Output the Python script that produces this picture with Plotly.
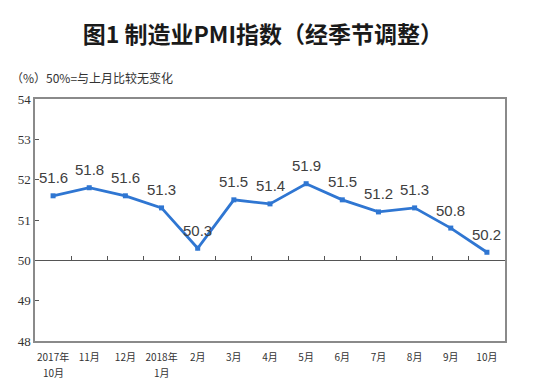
import plotly.graph_objects as go

tick_line1 = ["2017年", "11月", "12月", "2018年", "2月", "3月", "4月",
              "5月", "6月", "7月", "8月", "9月", "10月"]
tick_line2 = ["10月", "", "", "1月", "", "", "", "", "", "", "", "", ""]
pmi = [51.6, 51.8, 51.6, 51.3, 50.3, 51.5, 51.4, 51.9, 51.5, 51.2, 51.3, 50.8, 50.2]
y_ticks = [48, 49, 50, 51, 52, 53, 54]

idx = list(range(len(tick_line1)))
bounds = [i + 0.5 for i in idx[:-1]]
LINE_COLOR = "#2F76D2"

fig = go.Figure()
fig.add_trace(go.Scatter(
    x=idx, y=pmi, mode="lines+markers",
    line=dict(color=LINE_COLOR, width=2.8),
    marker=dict(symbol="square", size=5, color=LINE_COLOR),
    cliponaxis=False, showlegend=False, hoverinfo="skip"))
# invisible trace on the secondary (50-line) x-axis
fig.add_trace(go.Scatter(x=idx, y=pmi, xaxis="x2", mode="none",
                         showlegend=False, hoverinfo="skip"))

annotations = []
for i, v in zip(idx, pmi):
    annotations.append(dict(x=i, y=v, xref="x", yref="y", text=f"{v:.1f}",
                            showarrow=False, yshift=18, yanchor="middle",
                            font=dict(family="Liberation Sans, Arial", size=15,
                                      color="#404040")))
for i, t in zip(idx, tick_line2):
    if t:
        annotations.append(dict(x=i, y=-0.13, xref="x", yref="paper", text=t,
                                showarrow=False, yanchor="middle",
                                font=dict(family="Noto Sans CJK SC", size=10,
                                          color="#333")))
annotations.append(dict(text="（%）50%=与上月比较无变化", xref="paper", yref="paper",
                        x=-0.055, y=1.087, xanchor="left", yanchor="middle",
                        showarrow=False,
                        font=dict(family="Noto Sans CJK SC", size=12, color="#333")))

fig.update_layout(
    template="none",
    width=550, height=386,
    margin=dict(l=35, r=45, t=99, b=45, autoexpand=False),
    paper_bgcolor="white", plot_bgcolor="white",
    title=dict(text="图1 制造业PMI指数（经季节调整）", x=0.478, xanchor="center",
               y=0.91, yanchor="middle",
               font=dict(family="Noto Sans CJK SC", size=23, color="#1a1a1a", weight="bold")),
    xaxis=dict(range=[-0.5, len(idx) - 0.5], tickmode="array", tickvals=idx,
               ticktext=tick_line1, ticks="", showgrid=False, zeroline=False,
               automargin=False, ticklabelstandoff=6,
               showline=True, linecolor="#8a8a8a", linewidth=1.5, mirror=True,
               tickfont=dict(family="Noto Sans CJK SC", size=10, color="#333")),
    xaxis2=dict(overlaying="x", anchor="free", position=(50 - 48) / (54 - 48),
                range=[-0.5, len(idx) - 0.5], tickmode="array", tickvals=bounds,
                ticks="inside", ticklen=4, tickcolor="#555", showticklabels=False,
                showgrid=False, zeroline=False, showline=True, automargin=False,
                linecolor="#555", linewidth=1.2),
    yaxis=dict(range=[48, 54], tickmode="array", tickvals=y_ticks, ticks="inside",
               ticklen=4, tickcolor="#555", showgrid=False, zeroline=False,
               automargin=False,
               showline=True, linecolor="#8a8a8a", linewidth=1.5, mirror=True,
               tickfont=dict(family="Liberation Serif", size=13, color="#333")),
    annotations=annotations,
)

fig.write_html("out.html", config={"displayModeBar": False},
               post_script="document.body.style.margin='0';")
